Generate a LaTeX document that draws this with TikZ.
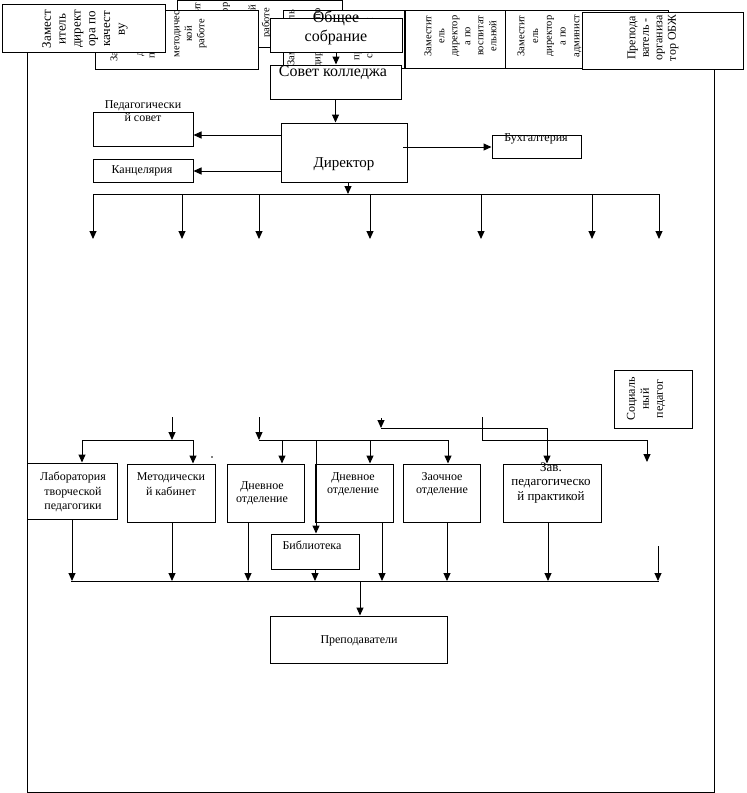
\documentclass[tikz,border=0pt]{standalone}
\usepackage{fontspec}
\setmainfont{Liberation Serif}
\usetikzlibrary{arrows.meta}

\tikzset{
  box/.style={draw, fill=white, line width=1pt, inner sep=0pt},
  txt/.style={inner sep=0pt, align=center, font=\fontsize{12}{13}\selectfont},
  bigtxt/.style={inner sep=0pt, align=center, font=\fontsize{16}{19}\selectfont},
  vtxt/.style={inner sep=0pt, align=center, rotate=90, font=\fontsize{10.5}{13}\selectfont},
  arr/.style={-{Triangle[width=7pt,length=8pt]}, line width=1pt},
  link/.style={line width=1pt}
}

\begin{document}
\begin{tikzpicture}[x=1pt, y=-1pt]
        \useasboundingbox (0,0) rectangle (747,793);

        % Outer frame
        \draw[link] (27,30) rectangle (714,792);

        % Deputies row, drawn back to front
        \node[box, minimum width=165, minimum height=47] (zamUch) at (259.5,23.5) {};
        \node[vtxt, font=\fontsize{10.5}{13.8}\selectfont] (tUch) at (232.5,23) {Заместит\\ель\\директор\\а по\\учебной\\работе};

        \node[box, minimum width=121, minimum height=58] (zamProizv) at (343.5,39) {};
        \node[vtxt] (tProizv) at (337.5,38) {Заместитель\\ \mbox{}\\ директора по\\ \mbox{}\\ \mbox{}\\ производ-\\ ственной\\ работе};

        \node[box, minimum width=163, minimum height=59] (zamNMR) at (176.5,39.5) {};
        \node[vtxt, font=\fontsize{10.5}{12.4}\selectfont] (tNMR) at (158.5,34) {Заместитель\\ \mbox{}\\ директора\\ по научно-\\ \mbox{}\\ методичес\\ кой\\ работе};

        \node[box, minimum width=163, minimum height=48] (zamKach) at (83.5,28) {};
        \node[vtxt, font=\fontsize{13}{14.8}\selectfont] (tKach) at (85,29) {Замест\\итель\\директ\\ора по\\качест\\ву};

        \node[box, minimum width=100, minimum height=58] (zamVosp) at (455,39) {};
        \node[vtxt] (tVosp) at (460.5,36) {Заместит\\ель\\директор\\а по\\воспитат\\ельной};

        \node[box, minimum width=163, minimum height=58] (zamAHR) at (586.5,39) {};
        \node[vtxt, font=\fontsize{10.5}{13.75}\selectfont] (tAHR) at (577,36) {Заместит\\ель\\директор\\а по\\админист\\ративно-\\хозяйст\\венной\\работе};

        \node[box, minimum width=161, minimum height=57] (obzh) at (662.5,40.5) {};
        \node[vtxt, font=\fontsize{12}{13.5}\selectfont] (tObzh) at (653,38) {Препода\\ватель -\\организа\\тор ОБЖ};

        % Meeting and council
        \node[box, minimum width=132, minimum height=34] (obsch) at (336,35) {};
        \node[bigtxt] (tObsch) at (336,28) {Общее\\собрание};

        \node[box, minimum width=131, minimum height=34] (sovet) at (335.5,82) {};
        \node[bigtxt] (tSovet) at (333,73) {Совет колледжа};

        % Director and his services
        \node[box, minimum width=126, minimum height=59] (director) at (344,152.5) {};
        \node[bigtxt, font=\fontsize{15}{18}\selectfont] (tDirector) at (344,164) {Директор};

        \node[box, minimum width=100, minimum height=34] (pedsovet) at (143,129) {};
        \node[txt] (tPedsovet) at (143,111.5) {Педагогически\\й совет};

        \node[box, minimum width=100, minimum height=23] (kanc) at (143,170.5) {};
        \node[txt] (tKanc) at (142,171) {Канцелярия};

        \node[box, minimum width=89, minimum height=23] (buh) at (536.5,146.5) {};
        \node[txt] (tBuh) at (536,139) {Бухгалтерия};

        \node[box, minimum width=78, minimum height=58] (socped) at (653,399) {};
        \node[vtxt, font=\fontsize{12}{14}\selectfont] (tSocped) at (646,399) {Социаль\\ный\\педагог};

        % Departments
        \node[box, minimum width=90, minimum height=56] (lab) at (72,491) {};
        \node[txt, font=\fontsize{12}{14.5}\selectfont] (tLab) at (73,492) {Лаборатория\\творческой\\педагогики};

        \node[box, minimum width=88, minimum height=58] (metod) at (171,493) {};
        \node[txt, font=\fontsize{12}{15}\selectfont] (tMetod) at (171,484.5) {Методически\\й кабинет};

        \node[box, minimum width=77, minimum height=58] (dnev1) at (265.5,493) {};
        \node[txt] (tDnev1) at (262,493.5) {Дневное\\отделение};

        \node[box, minimum width=78, minimum height=58] (dnev2) at (354,493) {};
        \node[txt, font=\fontsize{12}{12.5}\selectfont] (tDnev2) at (353,484) {Дневное\\отделение};

        \node[box, minimum width=77, minimum height=58] (zaoch) at (441.5,493) {};
        \node[txt, font=\fontsize{12}{12.5}\selectfont] (tZaoch) at (442,484) {Заочное\\отделение};

        \node[box, minimum width=98, minimum height=58] (zavpr) at (552,493) {};
        \node[txt, font=\fontsize{13}{14.5}\selectfont] (tZavpr) at (551,483) {Зав.\\педагогическо\\й практикой};

        \node[box, minimum width=88, minimum height=35] (bibl) at (315,551.5) {};
        \node[txt] (tBibl) at (312,545) {Библиотека};

        \node[box, minimum width=177, minimum height=47] (prep) at (358.5,639.5) {};
        \node[txt] (tPrep) at (359,641) {Преподаватели};

        % Top connectors
        \draw[arr] (obsch.south) -- (obsch.south |- sovet.north);
        \draw[arr] (sovet.south) -- (sovet.south |- director.north);

        \coordinate (dirP) at (281,135);
        \coordinate (dirK) at (281,171);
        \coordinate (dirB) at (403,147);
        \draw[arr] (dirP) -- (pedsovet.east |- dirP);
        \draw[arr] (dirK) -- (kanc.east |- dirK);
        \draw[arr] (dirB) -- (buh.west |- dirB);

        % Director bus with open drops
        \coordinate (busT) at (348,194);
        \draw[arr] (director.south -| busT) -- (busT);
        \foreach \x [count=\i] in {93,182,259,370,481,592,659} {
          \coordinate (t\i) at (\x,194);
          \coordinate (e\i) at (\x,239);
          \draw[arr] (t\i) -- (e\i);
        }
        \draw[link] (t1) -- (t7);

        % Group to laboratory and cabinet
        \coordinate (inA) at (172,417);
        \coordinate (jA) at (172,440);
        \coordinate (aL) at (82,440);
        \coordinate (aR) at (193,440);
        \draw[arr] (inA) -- (jA);
        \draw[link] (aL) -- (aR);
        \draw[arr] (aL) -- (lab.north -| aL);
        \draw[arr] (aR) -- (metod.north -| aR);
        \fill (212,457) circle (0.8);

        % Group to departments and library
        \coordinate (inB) at (259,417);
        \coordinate (bL) at (259,440);
        \coordinate (bR) at (448,440);
        \coordinate (b1) at (282,440);
        \coordinate (b2) at (370,440);
        \coordinate (b3) at (316,440);
        \draw[arr] (inB) -- (bL);
        \draw[link] (bL) -- (bR);
        \draw[arr] (b1) -- (dnev1.north -| b1);
        \draw[arr] (b2) -- (dnev2.north -| b2);
        \draw[arr] (bR) -- (zaoch.north -| bR);
        \draw[arr] (b3) -- (bibl.north -| b3);

        % Group to practice
        \coordinate (inC) at (381,418);
        \coordinate (cL) at (381,428);
        \coordinate (cR) at (547,428);
        \draw[arr] (inC) -- (cL);
        \draw[arr] (cL) -- (cR) -- (zavpr.north -| cR);

        \coordinate (inD) at (482,417);
        \coordinate (dL) at (482,440);
        \coordinate (dR) at (647,440);
        \coordinate (dE) at (647,462);
        \draw[arr] (inD) -- (dL) -- (dR) -- (dE);

        % Bottom bus to teachers
        \coordinate (bLab) at (72,581);
        \coordinate (bMetod) at (172,581);
        \coordinate (bDnev1) at (248,581);
        \coordinate (bBibl) at (315,581);
        \coordinate (bDnev2) at (382,581);
        \coordinate (bZaoch) at (447,581);
        \coordinate (bZavpr) at (548,581);
        \coordinate (bFree) at (658,581);
        \coordinate (sFree) at (658,546);
        \coordinate (bPrep) at (360,581);
        \draw[arr] (lab.south -| bLab) -- (bLab);
        \draw[arr] (metod.south -| bMetod) -- (bMetod);
        \draw[arr] (dnev1.south -| bDnev1) -- (bDnev1);
        \draw[arr] (bibl.south -| bBibl) -- (bBibl);
        \draw[arr] (dnev2.south -| bDnev2) -- (bDnev2);
        \draw[arr] (zaoch.south -| bZaoch) -- (bZaoch);
        \draw[arr] (zavpr.south -| bZavpr) -- (bZavpr);
        \draw[arr] (sFree) -- (bFree);
        \draw[link] (71,581) -- (659,581);
        \draw[arr] (bPrep) -- (prep.north -| bPrep);
\end{tikzpicture}
\end{document}
